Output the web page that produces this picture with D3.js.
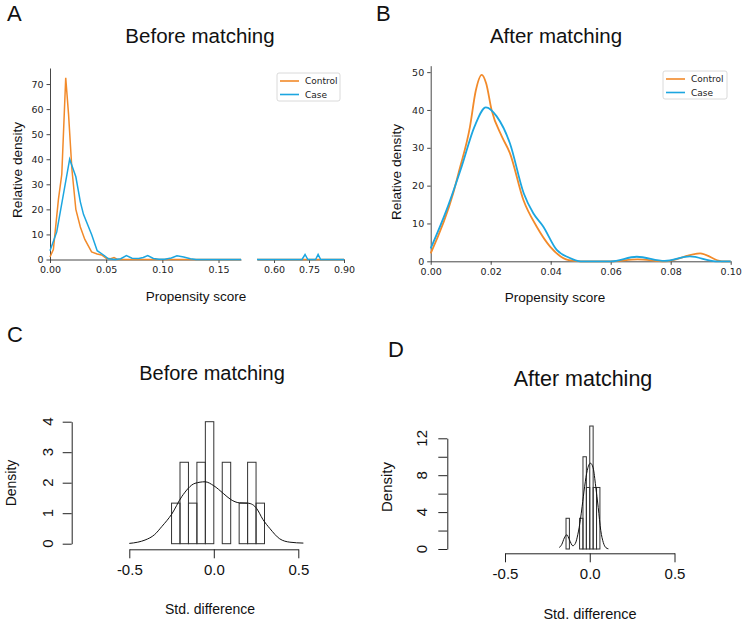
<!DOCTYPE html>
<html><head><meta charset="utf-8">
<script src="https://cdn.jsdelivr.net/npm/d3@7"></script>
<style>body{margin:0;background:#fff}svg{display:block}</style>
</head><body><svg id="c" width="742" height="622"></svg>
<script>
// ---------- DATA ----------
// Panel A (before matching) – kernel density of propensity score
const aControlX = [0, 0.003, 0.0075, 0.0105, 0.014, 0.0165, 0.0195, 0.023, 0.027, 0.031, 0.037, 0.042, 0.046, 0.05, 0.054, 0.057, 0.06, 0.17];
const aControlY = [1, 4, 24, 34, 72.5, 58, 36, 20, 13, 8, 3, 2.2, 1.8, 0.5, 0.3, 0.8, 0, 0];
const aCaseX = [0, 0.006, 0.0175, 0.023, 0.027, 0.0298, 0.0372, 0.042, 0.047, 0.052, 0.058, 0.063, 0.068, 0.073, 0.079, 0.083, 0.087, 0.092, 0.097, 0.102, 0.108, 0.113, 0.119, 0.125, 0.13, 0.17];
const aCaseY = [3.5, 11, 40, 33, 23, 18, 9.8, 3.5, 2, 0.3, 0, 0.3, 1.6, 0.5, 0.4, 0.8, 1.6, 0.4, 0.1, 0.1, 0.6, 1.5, 1.0, 0.3, 0, 0];
const aCaseHighX = [0.527, 0.72, 0.733, 0.745, 0.778, 0.789, 0.80, 0.90];
const aCaseHighY = [0, 0, 2, 0, 0, 2, 0, 0];
const aControlHighX = [0.527, 0.90];
const aControlHighY = [0, 0];
const aTicksLeft = [0, 0.05, 0.10, 0.15];
const aTicksRight = [0.60, 0.75, 0.90];
const aTicksY = [0, 10, 20, 30, 40, 50, 60, 70];

// Panel B (after matching)
const bControlX = [0, 0.0075, 0.0095, 0.0131, 0.015, 0.017, 0.0185, 0.0203, 0.0237, 0.0264, 0.0309, 0.0353, 0.0398, 0.046, 0.05, 0.06, 0.069, 0.078, 0.0898, 0.097, 0.10];
const bControlY = [2.1, 18, 24, 35.6, 45, 49.3, 47, 40, 33, 28.6, 16.2, 9.2, 3.9, 0.3, 0, 0, 0.5, 0, 2.1, 0, 0];
const bCaseX = [0, 0.0053, 0.0103, 0.0146, 0.0184, 0.022, 0.0264, 0.031, 0.0342, 0.0375, 0.042, 0.046, 0.05, 0.06, 0.0687, 0.078, 0.0864, 0.095, 0.10];
const bCaseY = [3.4, 13.6, 25, 35.6, 40.7, 38.3, 31.2, 18, 12.7, 9.2, 3, 1, 0, 0, 1.2, 0.1, 1.3, 0, 0];
const bTicksX = [0, 0.02, 0.04, 0.06, 0.08, 0.10];
const bTicksY = [0, 10, 20, 30, 40, 50];

// Panel C (before matching) – histogram of std. differences
const cEdges = [-0.25, -0.20, -0.15, -0.10, -0.05, 0, 0.05, 0.10, 0.15, 0.20, 0.25, 0.30];
const cDensity = [1.33, 2.67, 1.33, 2.67, 4, 0, 2.67, 0, 1.33, 2.67, 1.33];
const cCurveX = [-0.5, -0.45, -0.407, -0.35, -0.308, -0.249, -0.19, -0.111, -0.052, 0.0, 0.056, 0.1, 0.151, 0.2, 0.23, 0.254, 0.29, 0.333, 0.39, 0.45, 0.53];
const cCurveY = [0.01, 0.05, 0.12, 0.3, 0.56, 0.97, 1.54, 1.98, 2.03, 1.9, 1.65, 1.45, 1.34, 1.33, 1.28, 1.15, 0.8, 0.49, 0.16, 0.05, 0.02];
const cTicksX = [-0.5, 0, 0.5];
const cTicksY = [0, 1, 2, 3, 4];

// Panel D (after matching)
const dEdges = [-0.14, -0.12, -0.10, -0.08, -0.06, -0.04, -0.02, 0, 0.02, 0.04, 0.06];
const dDensity = [3.33, 0, 0, 0, 3.33, 10, 6.67, 13.33, 6.67, 6.67];
const dCurveX = [-0.18, -0.165, -0.15, -0.135, -0.12, -0.1, -0.085, -0.07, -0.055, -0.045, -0.03, -0.015, 0.004, 0.02, 0.035, 0.05, 0.065, 0.08, 0.095, 0.11];
const dCurveY = [0.15, 0.5, 1.2, 1.55, 1.0, 0.35, 0.6, 1.6, 3.2, 4.6, 6.8, 8.5, 9.3, 8.8, 6.8, 4.5, 2.0, 0.7, 0.15, 0.02];
const dTicksX = [-0.5, 0, 0.5];
const dTicksY = [0, 2, 4, 6, 8, 10, 12];
const dLabelsY = [0, 4, 8, 12];

const seriesNames = ["Control", "Case"];

// ---------- DRAW ----------
const svg = d3.select('#c');
const ORANGE = '#F28A2A', BLUE = '#1CA6E0';
const SANS = '"Liberation Sans", Arial, sans-serif';
const TICKF = '"DejaVu Sans", sans-serif';
const zip = (xs, ys) => xs.map((x, i) => [x, ys[i]]);

function styleMpl(g) {
  g.select('.domain').attr('stroke', '#333').attr('stroke-width', 0.9);
  g.selectAll('.tick line').attr('stroke', '#333').attr('stroke-width', 0.9);
  g.selectAll('.tick text').attr('fill', '#222').style('font-family', TICKF).style('font-size', '9.5px');
}
function label(x, y, txt, size, opts = {}) {
  const t = svg.append('text').attr('x', x).attr('y', y).text(txt)
    .style('font-family', SANS).style('font-size', size + 'px').attr('fill', '#111')
    .attr('text-anchor', opts.anchor || 'middle');
  if (opts.rotate) t.attr('transform', `rotate(-90,${x},${y})`);
  if (opts.baseline) t.attr('dominant-baseline', opts.baseline);
  return t;
}
function legend(x, y, w, h) {
  const g = svg.append('g');
  g.append('rect').attr('x', x).attr('y', y).attr('width', w).attr('height', h).attr('rx', 2)
    .attr('fill', '#fff').attr('stroke', '#d0d0d0').attr('stroke-width', 0.8);
  [ORANGE, BLUE].forEach((c, i) => {
    const yy = y + 8 + i * 13.5;
    g.append('line').attr('x1', x + 3).attr('x2', x + 22).attr('y1', yy).attr('y2', yy)
      .attr('stroke', c).attr('stroke-width', 1.6);
    g.append('text').attr('x', x + 28).attr('y', yy).attr('dominant-baseline', 'central')
      .text(seriesNames[i]).style('font-family', TICKF).style('font-size', '9px').attr('fill', '#222');
  });
}

// Panel letters
label(7, 21, 'A', 22, {anchor: 'start'});
label(376, 21, 'B', 22, {anchor: 'start'});
label(7, 342, 'C', 22, {anchor: 'start'});
label(388, 357, 'D', 22, {anchor: 'start'});

// ----- Panel A -----
const xA1 = d3.scaleLinear().domain([0, 0.17]).range([50, 241]);
const xA2 = d3.scaleLinear().domain([0.527, 0.90]).range([257, 344]);
const yA = d3.scaleLinear().domain([0, 76.4]).range([259.5, 68]);
svg.append('g').attr('transform', 'translate(0,259.5)')
  .call(d3.axisBottom(xA1).tickValues(aTicksLeft).tickFormat(d3.format('.2f')).tickSize(3.5).tickSizeOuter(0)).call(styleMpl);
svg.append('g').attr('transform', 'translate(0,259.5)')
  .call(d3.axisBottom(xA2).tickValues(aTicksRight).tickFormat(d3.format('.2f')).tickSize(3.5).tickSizeOuter(0)).call(styleMpl);
svg.append('g').attr('transform', 'translate(50,0)')
  .call(d3.axisLeft(yA).tickValues(aTicksY).tickSize(3.5).tickSizeOuter(0)).call(styleMpl);
const lineA1 = d3.line().x(d => xA1(d[0])).y(d => yA(d[1]));
const lineA2 = d3.line().x(d => xA2(d[0])).y(d => yA(d[1]));
[[aControlX, aControlY, aControlHighX, aControlHighY, ORANGE], [aCaseX, aCaseY, aCaseHighX, aCaseHighY, BLUE]].forEach(([x, y, hx, hy, c]) => {
  svg.append('path').attr('d', lineA1(zip(x, y))).attr('fill', 'none').attr('stroke', c).attr('stroke-width', 1.5);
  svg.append('path').attr('d', lineA2(zip(hx, hy))).attr('fill', 'none').attr('stroke', c).attr('stroke-width', 1.5);
});
legend(277, 73, 63, 28);
label(200, 43, 'Before matching', 20.5);
label(196, 301, 'Propensity score', 13.5);
label(22, 170, 'Relative density', 13.6, {rotate: true});

// ----- Panel B -----
const xB = d3.scaleLinear().domain([0, 0.10]).range([430.7, 730.7]);
const yB = d3.scaleLinear().domain([0, 51.7]).range([261.3, 65.7]);
svg.append('g').attr('transform', 'translate(0,261.3)')
  .call(d3.axisBottom(xB).tickValues(bTicksX).tickFormat(d3.format('.2f')).tickSize(3.5).tickSizeOuter(0)).call(styleMpl);
svg.append('g').attr('transform', 'translate(430.7,0)')
  .call(d3.axisLeft(yB).tickValues(bTicksY).tickSize(3.5).tickSizeOuter(0)).call(styleMpl);
const lineB = d3.line().x(d => xB(d[0])).y(d => yB(d[1])).curve(d3.curveMonotoneX);
svg.append('path').attr('d', lineB(zip(bControlX, bControlY))).attr('fill', 'none').attr('stroke', ORANGE).attr('stroke-width', 1.8);
svg.append('path').attr('d', lineB(zip(bCaseX, bCaseY))).attr('fill', 'none').attr('stroke', BLUE).attr('stroke-width', 1.8);
legend(663, 71, 64, 28);
label(556, 43, 'After matching', 20.5);
label(555, 302, 'Propensity score', 13.5);
label(401, 172, 'Relative density', 13.6, {rotate: true});

// ----- R-style hist panels -----
function rPanel(o) {
  const g = svg.append('g');
  const ax = g.append('g').attr('transform', `translate(0,${o.axisY})`)
    .call(d3.axisBottom(o.x).tickValues(o.ticksX).tickFormat(d => d.toFixed(1)).tickSize(o.tick).tickSizeOuter(0));
  const ay = g.append('g').attr('transform', `translate(${o.axisX},0)`)
    .call(d3.axisLeft(o.y).tickValues(o.ticksY).tickFormat('').tickSize(o.tick).tickSizeOuter(0));
  [ax, ay].forEach(a => {
    a.select('.domain').attr('stroke', '#222').attr('stroke-width', 1);
    a.selectAll('.tick line').attr('stroke', '#222').attr('stroke-width', 1);
  });
  ax.selectAll('.tick text').attr('y', o.tick + 6).attr('dy', '0.71em').attr('fill', '#111')
    .style('font-family', SANS).style('font-size', '15px');
  o.labelsY.forEach(v => {
    const yy = o.y(v);
    g.append('text').attr('x', o.ylabX).attr('y', yy).attr('transform', `rotate(-90,${o.ylabX},${yy})`)
      .attr('text-anchor', 'middle').attr('dominant-baseline', 'central').text(v)
      .style('font-family', SANS).style('font-size', '15px').attr('fill', '#111');
  });
  o.density.forEach((h, i) => {
    g.append('rect').attr('x', o.x(o.edges[i])).attr('width', o.x(o.edges[i + 1]) - o.x(o.edges[i]))
      .attr('y', o.y(h)).attr('height', o.y(0) - o.y(h))
      .attr('fill', 'none').attr('stroke', '#333').attr('stroke-width', 1);
  });
  const ln = d3.line().x(d => o.x(d[0])).y(d => o.y(d[1])).curve(d3.curveMonotoneX);
  g.append('path').attr('d', ln(zip(o.cx, o.cy))).attr('fill', 'none').attr('stroke', '#111').attr('stroke-width', 1);
}
const xC = d3.scaleLinear().domain([-0.5, 0.5]).range([129.3, 298.3]);
const yC = d3.scaleLinear().domain([0, 4]).range([543.7, 421.7]);
rPanel({x: xC, y: yC, axisY: 549.3, axisX: 71.7, tick: 9, ticksX: cTicksX, ticksY: cTicksY, labelsY: cTicksY, ylabX: 48,
  edges: cEdges, density: cDensity, cx: cCurveX, cy: cCurveY});
label(212, 380, 'Before matching', 20);
label(210, 614, 'Std. difference', 14);
label(16, 483, 'Density', 14, {rotate: true});

const xD = d3.scaleLinear().domain([-0.5, 0.5]).range([505, 674.5]);
const yD = d3.scaleLinear().domain([0, 12]).range([549, 438.3]);
rPanel({x: xD, y: yD, axisY: 553.3, axisX: 447.3, tick: 9, ticksX: dTicksX, ticksY: dTicksY, labelsY: dLabelsY, ylabX: 421.7,
  edges: dEdges, density: dDensity, cx: dCurveX, cy: dCurveY});
label(583, 386, 'After matching', 21.5);
label(590, 619, 'Std. difference', 14.5);
label(392, 487, 'Density', 15, {rotate: true});
</script></body></html>
